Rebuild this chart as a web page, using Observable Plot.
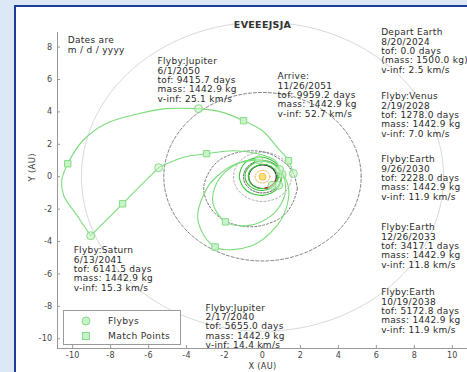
<!DOCTYPE html>
<html><head><meta charset="utf-8">
<script src="https://cdn.jsdelivr.net/npm/d3@7"></script>
<script src="https://cdn.jsdelivr.net/npm/@observablehq/plot@0.6"></script>
<style>
html,body{margin:0;padding:0;width:467px;height:372px;overflow:hidden;background:#dce8f5;font-family:"DejaVu Sans",sans-serif;}
#panel{position:absolute;left:14px;top:5px;width:451px;height:365px;background:#fff;border-left:2px solid #1d3e98;border-top:2px solid #1d3e98;}
#chart{position:absolute;left:16px;top:7px;}
#chart svg text{letter-spacing:0.3px;}
#legend{position:absolute;left:63px;top:310px;width:116px;height:33px;border:1px solid #9a9a9a;background:#fff;}
#legend text{font-family:"DejaVu Sans",sans-serif;font-size:9.2px;fill:#333;letter-spacing:0.3px;}
</style></head><body>
<div id="panel"></div><div id="chart"></div><div id="legend"></div>
<script>
// ---- data (AU) ----
const chartTitle = "EVEEEJSJA";
const xTicks = [-10, -8, -6, -4, -2, 0, 2, 4, 6, 8, 10];
const yTicks = [-10, -8, -6, -4, -2, 0, 2, 4, 6, 8];
const orbitNames = ["Mercury", "Venus", "Earth", "Mars", "Jupiter", "Saturn"];
const orbitRadii = [0.387, 0.723, 1.0, 1.524, 5.2, 9.54];

// target body orbit
const targetOrbit = [[1.84,-0.74],[1.6,0.3],[1.1,0.93],[0.3,1.45],[-0.63,1.6],[-1.6,1.4],[-2.37,0.93],[-2.9,0.1],[-3.1,-0.74],[-2.9,-1.6],[-2.37,-2.41],[-1.6,-2.9],[-0.63,-3.09],[0.3,-2.9],[1.1,-2.41],[1.6,-1.6],[1.84,-0.74]];

// trajectory legs
const legEarthVenus = [[0.85,-0.53],[1.0,0.0],[0.75,0.65],[0.0,0.98],[-0.7,0.62],[-0.92,0.0],[-0.65,-0.6],[0.0,-0.85],[0.55,-0.6],[0.8,0.0],[0.6,0.5],[0.0,0.77],[-0.6,0.45],[-0.75,0.0],[-0.5,-0.55],[0.1,-0.73],[0.5,-0.53]];
const legVenusEarth = [[0.5,-0.53],[0.85,-0.05],[0.8,0.72],[0.0,1.2],[-0.9,0.88],[-1.22,0.0],[-0.85,-0.85],[0.0,-1.15],[0.8,-0.72],[1.03,0.15]];
const legEarthEarth1 = [[1.03,0.15],[0.545,0.779],[-0.185,1.047],[-1.217,0.852],[-1.835,0.424],[-2.431,-0.429],[-2.61,-1.63],[-1.95,-2.785],[-0.69,-3.0],[0.429,-2.431],[1.01,-1.615],[1.217,-0.852],[1.047,0.185],[0.545,0.779],[-0.2,1.04]];
const legEarthEarth2 = [[-0.2,1.04],[-1.382,0.798],[-2.42,0.0],[-2.973,-0.797],[-3.41,-2.62],[-2.5,-4.33],[-0.561,-4.263],[0.797,-2.973],[1.21,-2.096],[1.382,-0.798],[1.04,0.279],[0.9,0.44]];
const legEarthJupiter = [[0.9,0.44],[0.68,0.99],[-0.26,1.42],[-1.53,1.6],[-2.95,1.42],[-4.16,1.2],[-5.47,0.56]];
const legJupiterSaturn = [[-5.47,0.56],[-6.4,-0.52],[-7.37,-1.67],[-8.2,-2.65],[-9.05,-3.64]];
const legSaturnJupiter = [[-9.05,-3.64],[-9.84,-2.28],[-10.47,-1.17],[-10.58,-0.25],[-10.26,0.8],[-9.47,2.22],[-8.26,3.27],[-6.53,3.89],[-5.1,4.2],[-3.37,4.2]];
const legJupiterArrive = [[-3.37,4.2],[-2.2,4.0],[-1.0,3.46],[0.0,2.84],[0.79,1.79],[1.37,0.99],[1.63,0.2]];
const redArc = [[0.70,-0.17],[0.62,-0.38],[0.48,-0.54],[0.3,-0.66],[0.12,-0.71]];

const flybys = [[0.85,-0.53],[0.5,-0.53],[1.03,0.15],[-0.2,1.04],[0.9,0.44],[-5.47,0.56],[-9.05,-3.64],[-3.37,4.2],[1.63,0.2]];
const matchPoints = [[-10.26,0.8],[-7.37,-1.67],[-2.95,1.42],[-1.0,3.46],[-1.95,-2.785],[-2.5,-4.33],[1.37,0.99]];

const labelTexts = [
  "Dates are\nm / d / yyyy",
  "Flyby:Jupiter\n6/1/2050\ntof: 9415.7 days\nmass: 1442.9 kg\nv-inf: 25.1 km/s",
  "Arrive:\n11/26/2051\ntof: 9959.2 days\nmass: 1442.9 kg\nv-inf: 52.7 km/s",
  "Depart Earth\n8/20/2024\ntof: 0.0 days\n(mass: 1500.0 kg)\nv-inf: 2.5 km/s",
  "Flyby:Venus\n2/19/2028\ntof: 1278.0 days\nmass: 1442.9 kg\nv-inf: 7.0 km/s",
  "Flyby:Earth\n9/26/2030\ntof: 2228.0 days\nmass: 1442.9 kg\nv-inf: 11.9 km/s",
  "Flyby:Earth\n12/26/2033\ntof: 3417.1 days\nmass: 1442.9 kg\nv-inf: 11.8 km/s",
  "Flyby:Earth\n10/19/2038\ntof: 5172.8 days\nmass: 1442.9 kg\nv-inf: 11.9 km/s",
  "Flyby:Saturn\n6/13/2041\ntof: 6141.5 days\nmass: 1442.9 kg\nv-inf: 15.3 km/s",
  "Flyby:Jupiter\n2/17/2040\ntof: 5655.0 days\nmass: 1442.9 kg\nv-inf: 14.4 km/s"
];
const labelX = [-10.26, -5.53, 0.79, 6.25, 6.25, 6.25, 6.25, 6.25, -9.95, -3.0];
const labelY = [8.64, 7.35, 6.42, 9.14, 5.19, 1.30, -2.9, -6.91, -4.32, -7.85];

// ---- build ----
function ring(r) { return d3.range(0, 361, 3).map(a => [r * Math.cos(a * Math.PI / 180), r * Math.sin(a * Math.PI / 180)]); }
const X = d => d[0], Y = d => d[1];
const labels = labelTexts.map((t, i) => ({text: t, x: labelX[i], y: labelY[i]}));
const orbitStyle = {
  Mercury: {stroke: "#f0a030", strokeWidth: 1, strokeDasharray: "1.5,1.5"},
  Venus: {stroke: "#222", strokeWidth: 1.1, strokeDasharray: "2,1"},
  Earth: {stroke: "#444", strokeWidth: 0.9, strokeDasharray: "2,1.5"},
  Mars: {stroke: "#999", strokeWidth: 0.8, strokeDasharray: "2,2"},
  Jupiter: {stroke: "#666", strokeWidth: 0.8, strokeDasharray: "3,2"},
  Saturn: {stroke: "#d4d4d4", strokeWidth: 0.9}
};
const green = "#7cdc7c";
const lineOpts = {x: X, y: Y, stroke: green, strokeWidth: 1.1, curve: "catmull-rom"};
const innerOpts = {...lineOpts, stroke: "#3cc43c"};

const chart = Plot.plot({
  width: 451, height: 365,
  marginLeft: 41, marginRight: 0, marginTop: 25, marginBottom: 24,
  x: {domain: [-10.8, 10.8]},
  y: {domain: [-10.6, 8.9]},
  style: {fontFamily: "DejaVu Sans, sans-serif", fontSize: "8px", color: "#333", background: "transparent", overflow: "visible"},
  marks: [
    Plot.ruleX([-10.8], {stroke: "#999"}),
    Plot.ruleY([-10.6], {stroke: "#999"}),
    Plot.axisX(xTicks, {tickSize: -3, tickPadding: 7, fontSize: 8, stroke: "#999", fill: "#444", label: null, tickFormat: d => String(d)}),
    Plot.axisY(yTicks, {tickSize: -3, tickPadding: 8, fontSize: 8, stroke: "#999", fill: "#444", label: null, tickFormat: d => String(d)}),
    ...orbitNames.map((n, i) => Plot.line(ring(orbitRadii[i]), {x: X, y: Y, ...orbitStyle[n]})),
    Plot.line(targetOrbit, {x: X, y: Y, stroke: "#555", strokeWidth: 0.8, strokeDasharray: "2,2", curve: "catmull-rom"}),
    Plot.line(legEarthVenus, innerOpts),
    Plot.line(legVenusEarth, innerOpts),
    Plot.line(legEarthEarth1, lineOpts),
    Plot.line(legEarthEarth2, lineOpts),
    Plot.line(legEarthJupiter, lineOpts),
    Plot.line(legJupiterSaturn, lineOpts),
    Plot.line(legSaturnJupiter, lineOpts),
    Plot.line(legJupiterArrive, lineOpts),
    Plot.line(redArc, {x: X, y: Y, stroke: "#d42020", strokeWidth: 1.2, curve: "catmull-rom"}),
    Plot.dot([[0, 0]], {x: X, y: Y, r: 3.5, fill: "#ffe070", stroke: "#f5b040", strokeWidth: 0.8}),
    Plot.dot(matchPoints, {x: X, y: Y, symbol: "square", r: 3.6, fill: "#c8f2c8", stroke: "#86dc86", strokeWidth: 1}),
    Plot.dot(flybys, {x: X, y: Y, r: 4, fill: "#c8f2c8", fillOpacity: 0.6, stroke: "#86dc86", strokeWidth: 1}),
    Plot.text(labels, {x: "x", y: "y", text: "text", textAnchor: "start", lineAnchor: "top", fontSize: 9, lineHeight: 1.04, fill: "#2a2a2a"}),
    Plot.text([chartTitle], {frameAnchor: "top", dy: -11, fontSize: 9.5, fontWeight: "bold", fill: "#333"}),
    Plot.text(["X (AU)"], {frameAnchor: "bottom", dy: 20, fontSize: 8.2, fill: "#333"}),
    Plot.text(["Y (AU)"], {frameAnchor: "left", dx: -25, dy: -9, rotate: -90, fontSize: 8.5, fill: "#333"})
  ]
});
document.getElementById("chart").appendChild(chart);

// legend
const legendItems = ["Flybys", "Match Points"];
const lg = d3.select("#legend").append("svg").attr("width", 116).attr("height", 33);
lg.append("circle").attr("cx", 22).attr("cy", 10).attr("r", 4).attr("fill", "#c8f2c8").attr("stroke", "#86dc86");
lg.append("rect").attr("x", 18.5).attr("y", 21.5).attr("width", 7).attr("height", 7).attr("fill", "#c8f2c8").attr("stroke", "#86dc86");
legendItems.forEach((t, i) => lg.append("text").attr("x", 44).attr("y", 10 + i * 15).attr("dominant-baseline", "middle").text(t));
</script></body></html>
